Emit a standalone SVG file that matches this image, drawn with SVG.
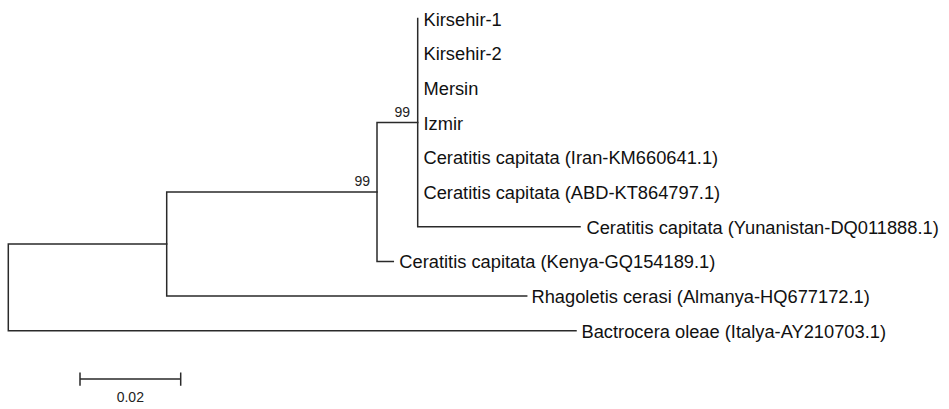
<svg xmlns="http://www.w3.org/2000/svg" width="949" height="409" viewBox="0 0 949 409">
<style>
.br{fill:none;stroke:#2a2a2a;stroke-width:1.5;stroke-linecap:square}
.lab{font-family:"Liberation Sans",Arial,sans-serif;font-size:18.3px;fill:#111}
.bs{font-family:"Liberation Sans Narrow","Liberation Sans",Arial,sans-serif;font-size:14px;fill:#222;text-anchor:end}
.sc{font-family:"Liberation Sans Narrow","Liberation Sans",Arial,sans-serif;font-size:14px;fill:#222;text-anchor:middle}
</style>
<rect width="949" height="409" fill="#fff"/>
<g id="connectors" class="br">
<path d="M8.3,244 V330.8 M8.3,244 H166.7 M8.3,330.8 H576"/>
<path d="M166.7,192 V296.1 M166.7,192 H377 M166.7,296.1 H526.7"/>
<path d="M377,122.6 V261.4 M377,122.6 H417.7 M377,261.4 H393.3"/>
<path d="M417.7,18.5 V226.7 M417.7,226.7 H580"/>
</g>
<g id="kirsehir-1"><text class="lab" x="423.5" y="25.5">Kirsehir-1</text></g>
<g id="kirsehir-2"><text class="lab" x="423.5" y="60.2">Kirsehir-2</text></g>
<g id="mersin"><text class="lab" x="423.5" y="94.9">Mersin</text></g>
<g id="izmir"><text class="lab" x="423.5" y="129.6">Izmir</text></g>
<g id="iran"><text class="lab" x="423.5" y="164.3">Ceratitis capitata (Iran-KM660641.1)</text></g>
<g id="abd"><text class="lab" x="423.5" y="199">Ceratitis capitata (ABD-KT864797.1)</text></g>
<g id="yunanistan"><text class="lab" x="586.5" y="233.7">Ceratitis capitata (Yunanistan-DQ011888.1)</text></g>
<g id="kenya"><text class="lab" x="399.3" y="268.4">Ceratitis capitata (Kenya-GQ154189.1)</text></g>
<g id="rhagoletis"><text class="lab" x="531.5" y="303.1">Rhagoletis cerasi (Almanya-HQ677172.1)</text></g>
<g id="bactrocera"><text class="lab" x="581.5" y="337.8">Bactrocera oleae (Italya-AY210703.1)</text></g>
<g id="bootstrap">
<text class="bs" x="410" y="117">99</text>
<text class="bs" x="370" y="186">99</text>
</g>
<g id="scale">
<path class="br" d="M80,379 H180.7 M80,373.3 V385 M180.7,373.3 V385"/>
<text class="sc" x="130.3" y="401.7">0.02</text>
</g>
</svg>
